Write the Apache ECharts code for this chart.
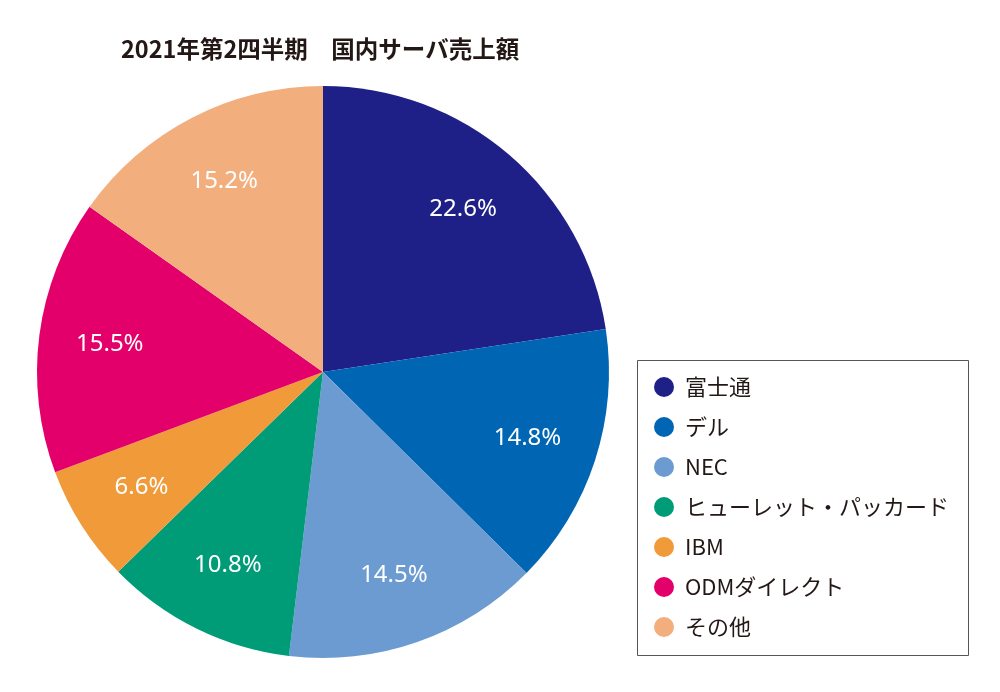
<!DOCTYPE html>
<html>
<head>
<meta charset="utf-8">
<script src="https://cdn.jsdelivr.net/npm/echarts@6/dist/echarts.min.js"></script>
<style>
  html, body { margin: 0; padding: 0; background: #fff; }
  #chart { width: 1000px; height: 692px; }
</style>
</head>
<body>
<div id="chart"></div>
<script>
const titleText = '2021年第2四半期　国内サーバ売上額';
const vendors = ['富士通', 'デル', 'NEC', 'ヒューレット・パッカード', 'IBM', 'ODMダイレクト', 'その他'];
const shares = [22.6, 14.8, 14.5, 10.8, 6.6, 15.5, 15.2];
const colors = ['#1e1f87', '#0066b4', '#6b9bd1', '#009b77', '#f09a3a', '#e3006a', '#f3ae7e'];

const font = '"Noto Sans CJK JP", "Noto Sans", sans-serif';

const pieData = vendors.map((name, i) => ({
    name: name,
    value: shares[i],
    itemStyle: { color: colors[i] }
}));

const labelData = vendors.map((name, i) => ({
    name: name,
    value: shares[i]
}));

const chart = echarts.init(document.getElementById('chart'));

chart.setOption({
    animation: false,
    title: {
        text: titleText,
        left: 121,
        top: 37,
        padding: 0,
        textStyle: {
            fontFamily: font,
            fontSize: 23.5,
            fontWeight: 'bold',
            color: '#231815'
        }
    },
    legend: {
        orient: 'vertical',
        left: 654,
        top: 376,
        data: vendors,
        icon: 'circle',
        itemWidth: 20,
        itemHeight: 20,
        itemGap: 18,
        padding: 0,
        textStyle: {
            fontFamily: font,
            fontSize: 22,
            color: '#231815',
            padding: [0, 0, 0, 6]
        }
    },
    graphic: [{
        type: 'rect',
        shape: { x: 637.5, y: 360.5, width: 331, height: 295 },
        style: { fill: 'none', stroke: '#555', lineWidth: 1 },
        silent: true
    }],
    series: [
        {
            name: 'share',
            type: 'pie',
            center: [323, 372],
            radius: [0, 286],
            startAngle: 90,
            clockwise: true,
            label: { show: false },
            labelLine: { show: false },
            emphasis: { disabled: true },
            data: pieData
        },
        {
            name: 'labels',
            type: 'pie',
            center: [323, 372],
            radius: [138, 286],
            startAngle: 90,
            clockwise: true,
            silent: true,
            itemStyle: { color: 'rgba(0,0,0,0)' },
            label: {
                show: true,
                position: 'inside',
                formatter: p => p.value.toFixed(1) + '%',
                fontFamily: '"Noto Sans", "Liberation Sans", sans-serif',
                fontSize: 24,
                color: '#fff'
            },
            labelLine: { show: false },
            emphasis: { disabled: true },
            data: labelData
        }
    ]
});
</script>
</body>
</html>
